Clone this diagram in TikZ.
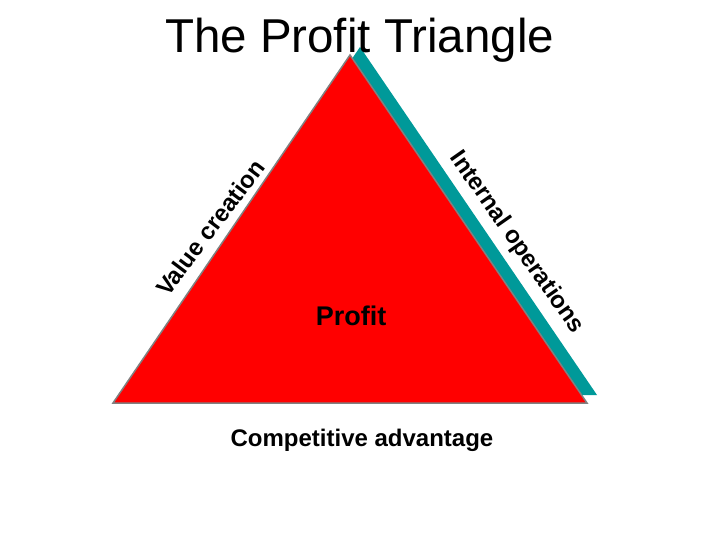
\documentclass[tikz,border=0pt]{standalone}
\usepackage{fontspec}
\setmainfont{Liberation Sans}
\definecolor{profred}{RGB}{255,0,0}
\definecolor{profteal}{RGB}{0,153,153}
\definecolor{edgegray}{RGB}{128,128,128}
\tikzset{
  sidelabel/.style={font=\bfseries\fontsize{24bp}{28bp}\selectfont, inner sep=0pt, anchor=base},
  titlelabel/.style={font=\fontsize{47.5bp}{52bp}\selectfont, inner sep=0pt, anchor=base},
  profitlabel/.style={font=\bfseries\fontsize{27bp}{31bp}\selectfont, inner sep=0pt, anchor=base},
}
\begin{document}
\begin{tikzpicture}[x=1bp,y=-1bp]
\useasboundingbox (0,0) rectangle (720,540);
\coordinate (A) at (350,55);
\coordinate (B) at (113,403);
\coordinate (C) at (587,403);
\fill[profteal] ([shift={(10,-8)}]A) -- ([shift={(10,-8)}]B) -- ([shift={(10,-8)}]C) -- cycle;
\filldraw[fill=profred, draw=edgegray, line width=1.5bp, line join=miter] (A) -- (B) -- (C) -- cycle;
\node[titlelabel] (title) at (359.5,53) {The Profit Triangle};
\node[sidelabel, rotate=53] (value) at (217,233) {Value creation};
\node[sidelabel, rotate=-55] (internal) at (511.5,246.4) {Internal operations};
\node[profitlabel] (profit) at (351,325) {Profit};
\node[sidelabel] (comp) at (362,446) {Competitive advantage};
\end{tikzpicture}
\end{document}
